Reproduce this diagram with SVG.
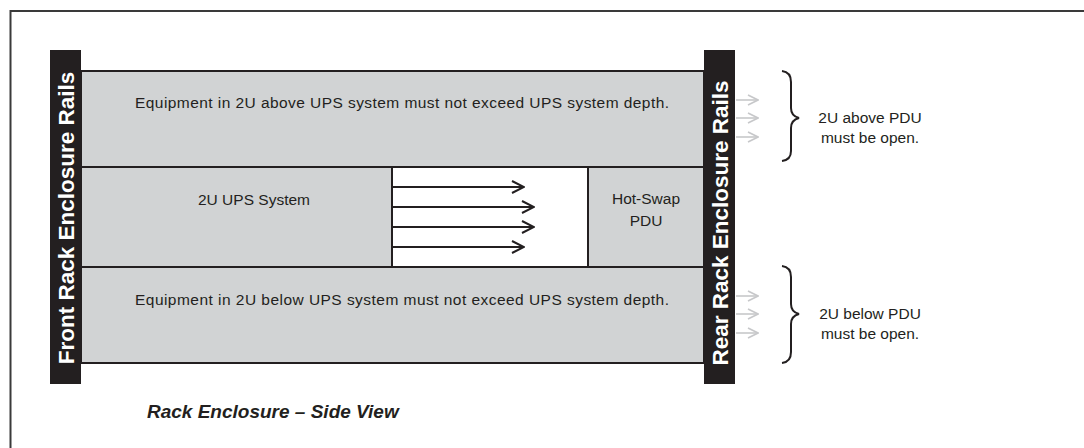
<svg xmlns="http://www.w3.org/2000/svg" width="1084" height="448" viewBox="0 0 1084 448">
<defs>
<style>
.t{font-family:"Liberation Sans",Arial,sans-serif;fill:#231f20;font-size:15.5px}
.rail{fill:#231f20}
.railt{font-family:"Liberation Sans",Arial,sans-serif;font-weight:bold;fill:#fff;font-size:22.5px}
.box{fill:#d1d3d4;stroke:#231f20;stroke-width:2}
.wbox{fill:#fff;stroke:#231f20;stroke-width:2}
.arr{stroke:#231f20;stroke-width:2;fill:none}
.garr{stroke:#c7c8ca;stroke-width:1.6;fill:none}
.brace{stroke:#231f20;stroke-width:2;fill:none}
</style>
<marker id="ah" viewBox="0 0 14 14" refX="13" refY="7" markerWidth="14" markerHeight="14" markerUnits="userSpaceOnUse" orient="auto">
<path d="M1,1 L13,7 L1,13" fill="none" stroke="#231f20" stroke-width="2"/>
</marker>
<marker id="gh" viewBox="0 0 12 12" refX="11" refY="6" markerWidth="12" markerHeight="12" markerUnits="userSpaceOnUse" orient="auto">
<path d="M1,1 L11,6 L1,11" fill="none" stroke="#c7c8ca" stroke-width="1.6"/>
</marker>
</defs>
<rect width="1084" height="448" fill="#fff"/>
<path d="M10.5,460 V11 H1090" fill="none" stroke="#3a3a3a" stroke-width="2"/>

<g id="top-equipment">
<rect class="box" x="81" y="71" width="623" height="96"/>
<text class="t" x="135" y="108" textLength="534" lengthAdjust="spacing">Equipment in 2U above UPS system must not exceed UPS system depth.</text>
</g>
<g id="ups-system">
<rect class="box" x="81" y="167" width="311" height="100"/>
<text class="t" x="254" y="205" text-anchor="middle">2U UPS System</text>
</g>
<g id="airflow-space">
<rect class="wbox" x="392" y="167" width="196" height="100"/>
</g>
<g id="hot-swap-pdu">
<rect class="box" x="588" y="167" width="116" height="100"/>
<text class="t" x="646" y="204" text-anchor="middle">Hot-Swap</text>
<text class="t" x="646" y="226" text-anchor="middle">PDU</text>
</g>
<g id="bottom-equipment">
<rect class="box" x="81" y="267" width="623" height="96"/>
<text class="t" x="135" y="305" textLength="534" lengthAdjust="spacing">Equipment in 2U below UPS system must not exceed UPS system depth.</text>
</g>
<g id="front-rail">
<rect class="rail" x="50" y="50" width="31" height="334"/>
<text class="railt" transform="translate(74,218) rotate(-90)" text-anchor="middle">Front Rack Enclosure Rails</text>
</g>
<g id="rear-rail">
<rect class="rail" x="704" y="50" width="31" height="334"/>
<text class="railt" transform="translate(728,223) rotate(-90)" text-anchor="middle">Rear Rack Enclosure Rails</text>
</g>

<g id="connectors">
<line class="arr" x1="393" y1="187" x2="524" y2="187" marker-end="url(#ah)"/>
<line class="arr" x1="393" y1="207" x2="534" y2="207" marker-end="url(#ah)"/>
<line class="arr" x1="393" y1="227" x2="534" y2="227" marker-end="url(#ah)"/>
<line class="arr" x1="393" y1="247" x2="524" y2="247" marker-end="url(#ah)"/>
<line class="garr" x1="736" y1="100" x2="758" y2="100" marker-end="url(#gh)"/>
<line class="garr" x1="736" y1="118" x2="758" y2="118" marker-end="url(#gh)"/>
<line class="garr" x1="736" y1="137" x2="758" y2="137" marker-end="url(#gh)"/>
<line class="garr" x1="736" y1="296" x2="758" y2="296" marker-end="url(#gh)"/>
<line class="garr" x1="736" y1="314" x2="758" y2="314" marker-end="url(#gh)"/>
<line class="garr" x1="736" y1="333" x2="758" y2="333" marker-end="url(#gh)"/>
</g>

<g id="brace-above">
<path class="brace" d="M782,71 Q791,72 791,82 V108 Q791,116 799,118 Q791,120 791,128 V151 Q791,160 782,161"/>
<text class="t" x="870" y="123" text-anchor="middle">2U above PDU</text>
<text class="t" x="870" y="143" text-anchor="middle">must be open.</text>
</g>
<g id="brace-below">
<path class="brace" d="M782,266 Q791,267 791,277 V304 Q791,312 799,314 Q791,316 791,324 V352 Q791,362 782,363"/>
<text class="t" x="870" y="319" text-anchor="middle">2U below PDU</text>
<text class="t" x="870" y="339" text-anchor="middle">must be open.</text>
</g>

<text id="title" x="147" y="418" style="font-family:'Liberation Sans',Arial,sans-serif;font-weight:bold;font-style:italic;font-size:19px;fill:#231f20">Rack Enclosure – Side View</text>
</svg>
